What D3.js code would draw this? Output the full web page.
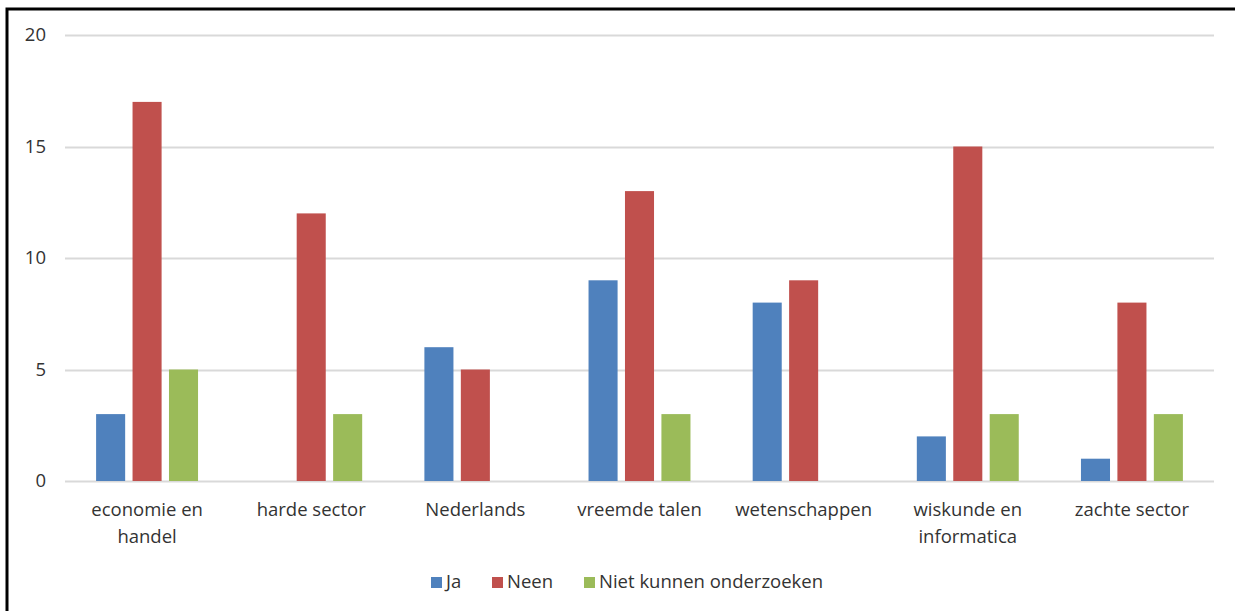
<!DOCTYPE html>
<html>
<head>
<meta charset="utf-8">
<script src="https://cdn.jsdelivr.net/npm/d3@7"></script>
<style>
  html, body { margin: 0; padding: 0; background: #fff; }
  svg { display: block; }
  text { font-family: "Open Sans", "Liberation Sans", sans-serif; fill: #333; }
</style>
</head>
<body>
<svg id="chart" width="1235" height="611"></svg>
<script>
// Categories (each label split into its display lines)
const categories = [
  ["economie en", "handel"],
  ["harde sector"],
  ["Nederlands"],
  ["vreemde talen"],
  ["wetenschappen"],
  ["wiskunde en", "informatica"],
  ["zachte sector"]
];
const seriesNames = ["Ja", "Neen", "Niet kunnen onderzoeken"];
const ja     = [3, 0, 6, 9, 8, 2, 1];
const neen   = [17, 12, 5, 13, 9, 15, 8];
const niet   = [5, 3, 0, 3, 0, 3, 3];
const yTicks = [0, 5, 10, 15, 20];
const colors = ["#4F81BD", "#C0504D", "#9BBB59"];

const series = [ja, neen, niet];
const svg = d3.select("#chart");
const fontSize = 18.5;

// frame
svg.append("rect")
  .attr("x", 7).attr("y", 9)
  .attr("width", 1235).attr("height", 611)
  .attr("fill", "none").attr("stroke", "#000").attr("stroke-width", 3);

const plotLeft = 65, plotRight = 1214, plotTop = 35, plotBottom = 481;

const x = d3.scaleBand()
  .domain(d3.range(categories.length))
  .range([plotLeft, plotRight])
  .padding(0);

const y = d3.scaleLinear().domain([0, 20]).range([plotBottom, plotTop]);

// inner positions of the three bars within each category
const bw = x.bandwidth();
const barW = bw * 0.177;
const step = bw * 0.222;
const xs = d3.scaleBand().domain(d3.range(3)).range([0, step * 3]).padding(0);
const groupOffset = (bw - (step * 2 + barW)) / 2;

// gridlines
svg.append("g").selectAll("line")
  .data(yTicks)
  .join("line")
  .attr("x1", plotLeft).attr("x2", plotRight)
  .attr("y1", d => Math.round(y(d)) + 0.5)
  .attr("y2", d => Math.round(y(d)) + 0.5)
  .attr("stroke", "#D9D9D9").attr("stroke-width", 2);

// y tick labels
svg.append("g").selectAll("text")
  .data(yTicks)
  .join("text")
  .attr("x", 46)
  .attr("y", d => y(d))
  .attr("dy", "0.35em")
  .attr("text-anchor", "end")
  .attr("font-size", fontSize)
  .text(d => d);

// bars
series.forEach((vals, si) => {
  svg.append("g").selectAll("rect")
    .data(vals)
    .join("rect")
    .attr("x", (d, i) => x(i) + groupOffset + xs(si))
    .attr("width", barW)
    .attr("y", d => y(d))
    .attr("height", d => y(0) - y(d))
    .attr("fill", colors[si]);
});

// category labels
const cat = svg.append("g").selectAll("text")
  .data(categories)
  .join("text")
  .attr("x", (d, i) => x(i) + bw / 2)
  .attr("y", 516)
  .attr("text-anchor", "middle")
  .attr("font-size", fontSize);
cat.selectAll("tspan")
  .data(d => d)
  .join("tspan")
  .attr("x", function() { return d3.select(this.parentNode).attr("x"); })
  .attr("dy", (d, i) => i === 0 ? 0 : 27)
  .text(d => d);

// legend
const legendX = [431, 492, 584];
const legend = svg.append("g");
seriesNames.forEach((name, i) => {
  legend.append("rect")
    .attr("x", legendX[i]).attr("y", 577)
    .attr("width", 11).attr("height", 11)
    .attr("fill", colors[i]);
  legend.append("text")
    .attr("x", legendX[i] + 15).attr("y", 582)
    .attr("dy", "0.35em")
    .attr("font-size", fontSize)
    .text(name);
});
</script>
</body>
</html>
